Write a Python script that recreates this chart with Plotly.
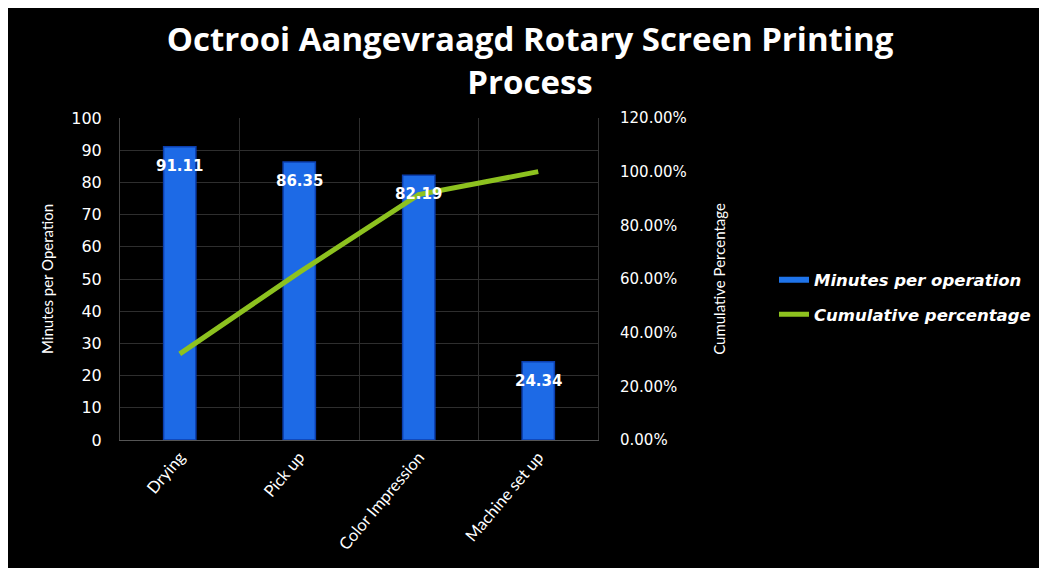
import plotly.graph_objects as go

categories = ["Drying", "Pick up", "Color Impression", "Machine set up"]
minutes = [91.11, 86.35, 82.19, 24.34]
cumulative = [0.3208, 0.6249, 0.9143, 1.0]
left_ticks = list(range(0, 101, 10))
right_ticks = [0, 0.2, 0.4, 0.6, 0.8, 1.0, 1.2]

W, H = 1047, 568
OFF = 8  # page body margin
L, R, T, B = 112, 457, 110, 136
pw = W - L - R
ph = H - T - B

def px_x(p):
    # p is a page pixel
    return (p - OFF - L) / pw

def px_y(p):
    return (H - B - (p - OFF)) / ph

fig = go.Figure()

fig.add_trace(go.Bar(
    x=categories, y=minutes, name="Minutes per operation",
    marker=dict(color="#1d6ae6", line=dict(color="#0c3fae", width=1.5)),
    width=0.27, showlegend=False,
))
# legend entry drawn as a line like the reference
fig.add_trace(go.Scatter(
    x=[None], y=[None], name="Minutes per operation", mode="lines",
    line=dict(color="#1f74ea", width=6), legendgroup="a",
))
fig.add_trace(go.Scatter(
    x=categories, y=cumulative, name="Cumulative percentage", yaxis="y2",
    mode="lines", line=dict(color="#8dc21f", width=5), legendgroup="b",
))

for c, v in zip(categories, minutes):
    fig.add_annotation(
        x=c, y=v, yshift=-19, text="<b>%.2f</b>" % v, showarrow=False,
        font=dict(family="DejaVu Sans", size=15, color="white"),
    )

fig.update_layout(
    width=W, height=H,
    margin=dict(l=L, r=R, t=T, b=B),
    paper_bgcolor="black", plot_bgcolor="black",
    title=dict(
        text="Octrooi Aangevraagd Rotary Screen Printing<br>Process",
        x=(530 - OFF) / W, xanchor="center", y=0.925, yanchor="top",
        font=dict(family="Open Sans", size=33, color="white", weight="bold"),
    ),
    xaxis=dict(
        type="category", tickson="boundaries", showgrid=True,
        gridcolor="#2e2e2e", showline=True, linecolor="#555", ticks="",
        tickangle=-50, tickfont=dict(family="Lato", size=16.5, color="white"),
    ),
    yaxis=dict(
        range=[0, 100], tickvals=left_ticks, showgrid=True, gridcolor="#2e2e2e",
        showline=True, linecolor="#444", zeroline=False,
        tickfont=dict(family="DejaVu Sans", size=16, color="white"),
        title=dict(text="Minutes per Operation", standoff=14,
                   font=dict(family="Lato", size=15, color="white")),
        ticklabelstandoff=14,
    ),
    yaxis2=dict(
        overlaying="y", side="right", range=[0, 1.2], tickvals=right_ticks,
        tickformat=".2%", showgrid=False, zeroline=False, showline=True,
        linecolor="#333",
        tickfont=dict(family="DejaVu Sans", size=15, color="white"),
        title=dict(text="Cumulative Percentage", standoff=28,
                   font=dict(family="Lato", size=15, color="white")),
        ticklabelstandoff=18,
    ),
    legend=dict(
        x=px_x(774), xanchor="left", y=px_y(297), yanchor="middle",
        font=dict(family="DejaVu Sans", size=16.5, color="white",
                  weight="bold", style="italic"),
        bgcolor="rgba(0,0,0,0)", tracegroupgap=10, traceorder="grouped",
    ),
    showlegend=True,
)

fig.write_html("out.html")
